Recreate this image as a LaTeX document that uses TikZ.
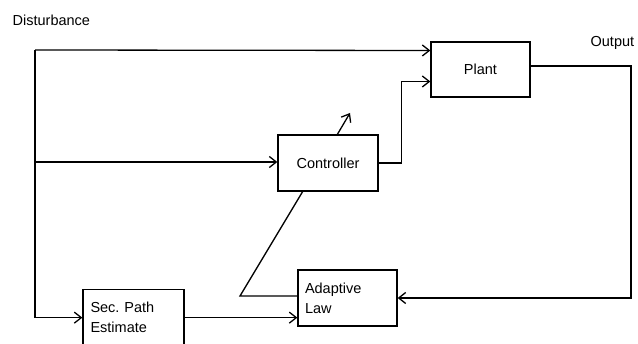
\documentclass[tikz,border=0pt]{standalone}
\usepackage{fontspec}
\setmainfont{Liberation Sans}
\usepackage{tikz}
\usetikzlibrary{arrows.meta}
\usetikzlibrary{positioning}
\tikzstyle{block} = [rectangle, draw, minimum width=99pt, minimum height=55pt, inner sep=0pt]
\tikzstyle{label} = [inner sep=0pt]

\begin{document}
\begin{tikzpicture}[x=1pt, y=-1pt, line width=1.3pt, >={Straight Barb[length=7pt,width=11pt]},
    every node/.style={font=\fontsize{14.5}{20}\selectfont}]
   \useasboundingbox (0,0) rectangle (638,344);
   % Place nodes
   \node [block] (plant) at (480.5,69.5) {Plant};
   \node [block, minimum width=100pt, minimum height=56pt] (ctrl) at (328,163) {Controller};
   \node [block, minimum height=56pt, align=left, text width=85pt] (adapt) at (347.5,298) {Adaptive\\Law};
   \node [block, minimum width=101pt, minimum height=56pt, align=left, text width=86pt, anchor=north] (sec) at (133.5,289) {Sec.\ Path\\Estimate};
   \node [label, anchor=west] (dist) at (12,20) {Disturbance};
   \node [label, anchor=west] (outl) at (590,43) {Output};

   \coordinate (d) at (35,50);
   \coordinate (dc) at (35,162);
   \coordinate (out) at (631,66);
   \coordinate (k) at (240,296);
   \coordinate (cb) at (303,191);
   \coordinate (ct) at (337,135);
   \coordinate (tip) at (350,113);

   \draw[->] (d) -- ([yshift=19pt]plant.west);
   \draw[->] (d) |- (sec.west);
   \draw[->] (dc) -- (dc -| ctrl.west);
   \draw[->] (ctrl.east) -- ++(23,0) |- ([yshift=-12pt]plant.west);
   \draw[->] (plant.east |- out) -- (out) |- (adapt.east);
   \draw[->] (sec.west -| sec.east) -- (sec.west -| adapt.west);
   \draw (adapt.west |- k) -- (k) -- (cb);
   \draw[->] (ct) -- (tip);
\end{tikzpicture}
\end{document}
